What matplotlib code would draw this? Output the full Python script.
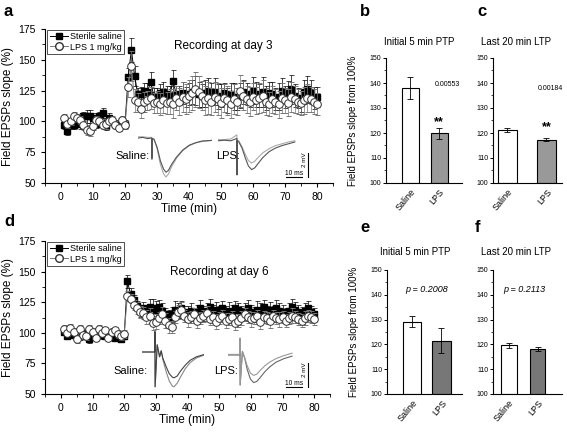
import matplotlib
matplotlib.use('Agg')
import matplotlib.pyplot as plt
from matplotlib.ticker import MultipleLocator
from matplotlib.lines import Line2D

plt.rcParams['font.family'] = ['Liberation Sans', 'DejaVu Sans']

# ---------------- data ----------------
time = list(range(1, 81))

a_sal = [97, 92, 98, 97, 100, 98, 104, 104, 104, 103, 98, 104, 107, 96, 103, 100, 98, 97, 100, 98,
         136, 158, 137, 122, 122, 125, 124, 132, 121, 120, 123, 124, 122, 121, 133, 122, 121, 123, 120, 122,
         124, 125, 122, 121, 123, 125, 122, 124, 120, 121, 123, 117, 122, 120, 118, 121, 124, 122, 120, 125,
         122, 121, 124, 119, 123, 122, 118, 120, 125, 120, 123, 126, 121, 119, 117, 124, 126, 124, 119, 120]
a_sal_err = [3, 3, 4, 3, 3, 4, 4, 5, 5, 4, 3, 4, 4, 3, 4, 3, 3, 3, 3, 3,
             7, 10, 8, 5, 6, 6, 7, 8, 6, 7, 7, 8, 7, 8, 9, 7, 8, 9, 8, 9,
             10, 12, 10, 9, 11, 10, 9, 11, 10, 9, 8, 10, 9, 11, 9, 10, 10, 9, 8, 11,
             10, 9, 12, 10, 9, 10, 9, 11, 10, 9, 10, 12, 9, 8, 9, 10, 11, 10, 9, 8]
a_lps = [103, 98, 100, 104, 103, 101, 97, 93, 92, 96, 101, 100, 97, 98, 100, 101, 97, 95, 101, 97,
         128, 145, 117, 116, 110, 116, 117, 119, 115, 116, 114, 117, 115, 116, 114, 119, 116, 120, 118, 121,
         123, 126, 124, 121, 117, 119, 116, 120, 118, 115, 119, 117, 114, 118, 116, 125, 121, 118, 116, 120,
         117, 119, 121, 116, 114, 118, 116, 114, 119, 117, 115, 120, 118, 116, 115, 117, 119, 118, 116, 114]
a_lps_err = [3, 3, 3, 4, 3, 3, 4, 4, 4, 3, 3, 3, 3, 4, 3, 3, 3, 3, 3, 3,
             8, 12, 9, 7, 7, 8, 8, 9, 8, 9, 9, 10, 9, 10, 11, 10, 11, 12, 12, 13,
             14, 14, 13, 12, 12, 13, 11, 12, 13, 12, 11, 12, 11, 12, 11, 13, 12, 11, 12, 11,
             11, 12, 13, 11, 10, 11, 10, 11, 12, 10, 11, 12, 11, 10, 10, 11, 11, 10, 10, 9]

d_sal = [101, 97, 100, 98, 99, 97, 99, 100, 95, 98, 97, 100, 98, 97, 99, 97, 96, 98, 95, 97,
         142, 132, 127, 122, 118, 120, 117, 121, 120, 119, 121, 118, 115, 113, 115, 119, 118, 120, 117, 116,
         118, 115, 117, 120, 116, 118, 121, 117, 119, 117, 120, 116, 118, 117, 120, 119, 116, 118, 120, 117,
         115, 119, 118, 121, 117, 119, 116, 120, 118, 117, 115, 118, 121, 119, 117, 116, 118, 120, 117, 115]
d_sal_err = [2, 2, 3, 2, 2, 3, 2, 2, 3, 2, 2, 2, 3, 2, 2, 2, 3, 2, 2, 2,
             5, 5, 4, 4, 5, 5, 6, 7, 8, 7, 6, 6, 5, 6, 6, 7, 6, 6, 5, 6,
             6, 5, 6, 7, 6, 6, 7, 6, 6, 5, 6, 6, 7, 6, 6, 5, 6, 6, 7, 6,
             6, 7, 6, 6, 5, 6, 6, 7, 6, 6, 5, 6, 7, 6, 6, 5, 6, 6, 5, 5]
d_lps = [103, 100, 104, 101, 95, 103, 98, 97, 103, 101, 96, 103, 100, 102, 96, 101, 102, 99, 97, 99,
         130, 128, 123, 120, 117, 116, 113, 114, 108, 109, 112, 115, 110, 106, 105, 113, 117, 119, 114, 111,
         113, 115, 110, 112, 114, 116, 111, 113, 109, 112, 114, 110, 111, 113, 108, 110, 112, 115, 113, 111,
         112, 114, 109, 113, 112, 110, 114, 112, 111, 113, 110, 112, 114, 113, 111, 110, 112, 114, 113, 111]
d_lps_err = [3, 3, 3, 3, 3, 3, 3, 3, 3, 3, 3, 3, 3, 3, 3, 3, 3, 3, 3, 3,
             4, 4, 4, 5, 5, 5, 6, 6, 6, 6, 5, 6, 6, 6, 5, 5, 6, 6, 5, 6,
             5, 5, 6, 5, 5, 6, 5, 5, 6, 5, 5, 6, 5, 5, 6, 5, 6, 5, 5, 6,
             5, 5, 6, 5, 5, 6, 5, 5, 6, 5, 5, 5, 6, 5, 5, 5, 6, 5, 5, 5]

bar_groups = ['Saline', 'LPS']
b_vals, b_errs = [138.0, 119.8], [4.4, 2.1]
c_vals, c_errs = [121.0, 117.3], [0.8, 0.6]
e_vals, e_errs = [129.2, 121.5], [2.3, 5.0]
f_vals, f_errs = [119.6, 118.0], [1.0, 0.8]

# inset traces (ms, mV)
a_sal_t = [0, 3, 6, 8.6, 8.7, 8.8, 10, 12, 14, 16, 17.5, 19, 21, 24, 28, 32, 36, 40, 46]
a_sal_v1 = [0, 0.05, -0.05, 0, -1.7, -0.05, -0.1, -0.8, -1.9, -2.6, -2.85, -2.7, -2.2, -1.6, -1.0, -0.6, -0.4, -0.25, -0.2]
a_sal_v2 = [0.1, 0.1, 0.05, 0.05, -1.8, -0.05, -0.1, -0.9, -2.2, -3.0, -3.25, -3.0, -2.4, -1.7, -1.05, -0.65, -0.4, -0.3, -0.2]
a_lps_t = [0, 4, 8, 11.8, 11.9, 12.0, 13, 15, 17, 19, 21, 23, 25, 28, 32, 36, 40, 44, 48]
a_lps_v1 = [0.1, 0.15, 0.1, 0.3, -2.75, 0.1, 0.0, -0.5, -1.3, -2.0, -2.3, -2.15, -1.8, -1.3, -0.8, -0.5, -0.3, -0.15, 0.0]
a_lps_v2 = [0.2, 0.2, 0.25, 0.6, -2.7, 0.15, 0.1, -0.4, -1.0, -1.55, -1.75, -1.6, -1.3, -0.9, -0.55, -0.3, -0.15, 0.0, 0.1]
d_sal_t = [0, 4, 8.0, 8.1, 8.2, 9.5, 11, 12, 13, 15, 17, 19, 20, 22, 24, 27, 30, 34, 39]
d_sal_v1 = [0, 0, 0, 1.7, -2.9, 0.6, -0.4, 0.1, -0.5, -1.2, -1.8, -2.1, -2.15, -2.0, -1.6, -1.1, -0.7, -0.4, -0.2]
d_sal_v2 = [0, 0, 0, 1.7, -2.9, 0.6, -0.4, 0.1, -0.6, -1.6, -2.4, -2.85, -2.9, -2.6, -2.1, -1.4, -0.9, -0.5, -0.25]
d_lps_t = [0, 4, 7.4, 7.5, 7.6, 9, 10.5, 12, 14, 16, 18, 20, 23, 26, 30, 35, 40]
d_lps_v1 = [0, 0, 0, 1.4, -2.5, 0.3, -0.3, -1.2, -2.0, -2.3, -2.2, -1.9, -1.4, -1.0, -0.6, -0.3, -0.1]
d_lps_v2 = [0.05, 0.05, 0.05, 1.4, -2.5, 0.3, -0.25, -0.9, -1.5, -1.7, -1.6, -1.3, -0.9, -0.6, -0.3, -0.05, 0.15]

# ---------------- layout helpers ----------------
W, H = 567, 433
fig = plt.figure(figsize=(W / 100, H / 100), dpi=100)


def px_axes(l, t, r, b):
    return fig.add_axes([l / W, 1 - b / H, (r - l) / W, (b - t) / H])


def ftext(x, y, s, **kw):
    fig.text(x / W, 1 - y / H, s, **kw)


def timecourse(ax, sal, sal_err, lps, lps_err, title, title_xy):
    ax.errorbar(time, sal, yerr=sal_err, fmt='-s', color='black', ms=4.8, lw=0.7,
                elinewidth=0.5, capsize=1.8, capthick=0.5, zorder=3)
    ax.errorbar(time, lps, yerr=lps_err, fmt='-o', color='#777777', mfc='white', mec='#333333',
                mew=0.7, ms=5.5, lw=0.7, elinewidth=0.5, capsize=1.8, capthick=0.5, zorder=4)
    ax.set_xlim(-5, 85)
    ax.set_ylim(50, 175)
    ax.xaxis.set_major_locator(MultipleLocator(10))
    ax.xaxis.set_minor_locator(MultipleLocator(5))
    ax.yaxis.set_major_locator(MultipleLocator(25))
    ax.yaxis.set_minor_locator(MultipleLocator(12.5))
    for s in ['top', 'right']:
        ax.spines[s].set_visible(False)
    for s in ['left', 'bottom']:
        ax.spines[s].set_linewidth(0.8)
    ax.tick_params(which='major', direction='out', length=3, width=0.8, labelsize=7.5)
    ax.tick_params(which='minor', direction='out', length=2, width=0.6)
    ax.set_ylabel('Field EPSPs slope (%)', fontsize=8.5, labelpad=3)
    ax.set_xlabel('Time (min)', fontsize=8.5, labelpad=1)
    handles = [Line2D([], [], color='black', marker='s', ms=4.8, lw=0.7),
               Line2D([], [], color='#777777', marker='o', mfc='white', mec='#333333', ms=5.5, lw=0.7)]
    leg = ax.legend(handles, ['Sterile saline', 'LPS 1 mg/kg'], loc='upper left',
                    bbox_to_anchor=(0.005, 1.0), fontsize=6.5, frameon=True, fancybox=False,
                    edgecolor='black', borderpad=0.25, labelspacing=0.15, handlelength=2.0,
                    handletextpad=0.3, borderaxespad=0.1)
    leg.get_frame().set_linewidth(0.6)
    ftext(title_xy[0], title_xy[1], title, fontsize=8.5, ha='center', va='center')


def bars(ax, vals, errs, color, title, title_xy, xpos, width, xlim):
    heights = [v - 100 for v in vals]
    ax.bar(xpos, heights, bottom=100, width=width, color=['white', color],
           edgecolor='black', linewidth=0.8, zorder=2)
    ax.errorbar(xpos, vals, yerr=errs, fmt='none', ecolor='black', elinewidth=0.6,
                capsize=2, capthick=0.6, zorder=3)
    ax.set_ylim(100, 150)
    ax.set_xlim(*xlim)
    ax.yaxis.set_major_locator(MultipleLocator(10))
    ax.yaxis.set_minor_locator(MultipleLocator(5))
    ax.set_xticks(xpos)
    ax.set_xticklabels(bar_groups, rotation=50, ha='right', rotation_mode='anchor', fontsize=6.5)
    for s in ['top', 'right']:
        ax.spines[s].set_visible(False)
    for s in ['left', 'bottom']:
        ax.spines[s].set_linewidth(0.8)
    ax.tick_params(axis='x', length=0, pad=3)
    ax.tick_params(axis='y', which='major', direction='out', length=2.5, width=0.7, labelsize=5, pad=1)
    ax.tick_params(axis='y', which='minor', direction='out', length=1.5, width=0.5)
    ftext(title_xy[0], title_xy[1], title, fontsize=7, ha='center', va='center')


def trace_axes(x0, ybase, t0, t1, v0, v1, pxms=1.6, pxmv=12.0):
    l = x0 + t0 * pxms
    r = x0 + t1 * pxms
    t = ybase - v1 * pxmv
    b = ybase - v0 * pxmv
    ax = px_axes(l, t, r, b)
    ax.set_xlim(t0, t1)
    ax.set_ylim(v0, v1)
    ax.axis('off')
    ax.patch.set_alpha(0)
    return ax


# ---------------- panels a, d ----------------
ax_a = px_axes(45, 29, 333, 183)
timecourse(ax_a, a_sal, a_sal_err, a_lps, a_lps_err, 'Recording at day 3', (223, 46))
ax_d = px_axes(45, 241, 330, 394)
timecourse(ax_d, d_sal, d_sal_err, d_lps, d_lps_err, 'Recording at day 6', (219, 272))

# traces a
ta = trace_axes(138, 138, 0, 46, -3.5, 0.6)
ta.plot(a_sal_t, a_sal_v2, color='#aaaaaa', lw=0.8)
ta.plot(a_sal_t, a_sal_v1, color='#555555', lw=0.8)
tb = trace_axes(218, 142, 0, 58, -3.5, 0.8)
tb.plot(a_lps_t, a_lps_v2, color='#aaaaaa', lw=0.8)
tb.plot(a_lps_t, a_lps_v1, color='#555555', lw=0.8)
tb.plot([42.5, 52.5], [-2.92, -2.92], color='black', lw=0.8)
tb.plot([56, 56], [-2.92, -0.92], color='black', lw=0.8)
tb.text(47.5, -2.88, '10 ms', fontsize=4.8, ha='center', va='bottom')
tb.text(55.6, -1.45, '2 mV', fontsize=4.5, ha='right', va='center', rotation=90)
ftext(150, 156, 'Saline:', fontsize=8, ha='right', va='center')
ftext(240, 156, 'LPS:', fontsize=8, ha='right', va='center')

# traces d
tc = trace_axes(142, 352, 0, 39, -3.2, 1.9)
tc.plot(d_sal_t, d_sal_v2, color='#888888', lw=0.8)
tc.plot(d_sal_t, d_sal_v1, color='#444444', lw=0.8)
td = trace_axes(228, 355, 0, 51, -3.2, 1.6)
td.plot(d_lps_t, d_lps_v1, color='#666666', lw=0.8)
td.plot(d_lps_t, d_lps_v2, color='#999999', lw=0.8)
td.plot([36.25, 46.25], [-2.67, -2.67], color='black', lw=0.8)
td.plot([50, 50], [-2.67, -0.67], color='black', lw=0.8)
td.text(41.25, -2.63, '10 ms', fontsize=4.8, ha='center', va='bottom')
td.text(49.6, -1.2, '2 mV', fontsize=4.5, ha='right', va='center', rotation=90)
ftext(148, 371, 'Saline:', fontsize=8, ha='right', va='center')
ftext(238, 371, 'LPS:', fontsize=8, ha='right', va='center')

# ---------------- bar panels ----------------
ax_b = px_axes(386, 58, 462, 183)
bars(ax_b, b_vals, b_errs, '#999999', 'Initial 5 min PTP', (419, 42), [0, 1], 0.58, (-0.84, 1.79))
ax_b.set_ylabel('Field EPSPs slope from 100%', fontsize=7, labelpad=8)
ax_b.text(1.3, 139.5, '0.00553', fontsize=5, ha='center', va='center')
ax_b.text(1, 124.5, '**', fontsize=9, fontweight='bold', ha='center', va='center')

ax_c = px_axes(493, 58, 562, 183)
bars(ax_c, c_vals, c_errs, '#999999', 'Last 20 min LTP', (516, 42), [0, 1], 0.49, (-0.37, 1.40))
ax_c.text(1.1, 138, '0.00184', fontsize=5, ha='center', va='center')
ax_c.text(1, 122.5, '**', fontsize=9, fontweight='bold', ha='center', va='center')

ax_e = px_axes(387, 270, 462, 394)
bars(ax_e, e_vals, e_errs, '#777777', 'Initial 5 min PTP', (415, 252), [0, 1], 0.62, (-0.85, 1.70))
ax_e.set_ylabel('Field EPSPs slope from 100%', fontsize=7, labelpad=8)
ax_e.text(0.5, 142, 'p = 0.2008', fontsize=6.5, style='italic', ha='center', va='center')

ax_f = px_axes(493, 270, 562, 394)
bars(ax_f, f_vals, f_errs, '#777777', 'Last 20 min LTP', (516, 252), [0, 1], 0.55, (-0.55, 1.85))
ax_f.text(0.55, 142, 'p = 0.2113', fontsize=6.5, style='italic', ha='center', va='center')

# panel letters
for lab, x, y in [('a', 4, 11), ('b', 360, 11), ('c', 477, 11),
                  ('d', 4, 222), ('e', 360, 228), ('f', 475, 228)]:
    ftext(x, y, lab, fontsize=12, fontweight='bold', ha='left', va='center')

fig.savefig('out.png', dpi=100)
